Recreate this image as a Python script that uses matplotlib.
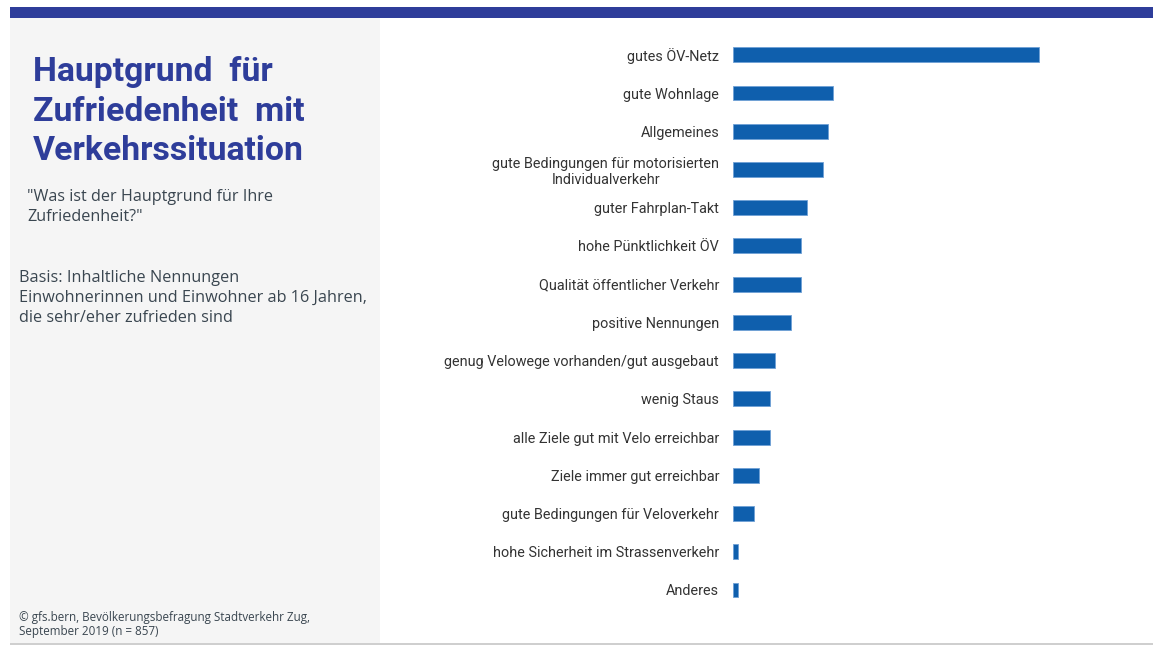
import matplotlib
matplotlib.use("Agg")
import matplotlib.pyplot as plt
from matplotlib.patches import Rectangle

# Reasons for satisfaction with the traffic situation (share of mentions, %)
categories = [
    "gutes ÖV-Netz",
    "gute Wohnlage",
    "Allgemeines",
    "gute Bedingungen für motorisierten\nIndividualverkehr",
    "guter Fahrplan-Takt",
    "hohe Pünktlichkeit ÖV",
    "Qualität öffentlicher Verkehr",
    "positive Nennungen",
    "genug Velowege vorhanden/gut ausgebaut",
    "wenig Staus",
    "alle Ziele gut mit Velo erreichbar",
    "Ziele immer gut erreichbar",
    "gute Bedingungen für Veloverkehr",
    "hohe Sicherheit im Strassenverkehr",
    "Anderes",
]
values = [30, 9.8, 9.3, 8.8, 7.3, 6.7, 6.7, 5.7, 4.1, 3.6, 3.6, 2.5, 2.1, 0.5, 0.5]

title_lines = "Hauptgrund  für\nZufriedenheit  mit\nVerkehrssituation"
question = "\"Was ist der Hauptgrund für Ihre\nZufriedenheit?\""
basis = ("Basis: Inhaltliche Nennungen\n"
         "Einwohnerinnen und Einwohner ab 16 Jahren,\n"
         "die sehr/eher zufrieden sind")
source = "© gfs.bern, Bevölkerungsbefragung Stadtverkehr Zug,\nSeptember 2019 (n = 857)"

FONT = ["Roboto", "DejaVu Sans"]
BODY = ["Open Sans", "DejaVu Sans"]
NAVY = "#2E3D9A"
BAR = "#0F5FAD"
TEXT = "#3A4650"

W, H = 1153, 645
fig = plt.figure(figsize=(W / 100, H / 100), dpi=100)
fig.patch.set_facecolor("white")


def fx(px):
    return px / W


def fy(py):
    return 1 - py / H


# Header stripe, side panel and bottom rule
fig.add_artist(Rectangle((fx(10), fy(18)), fx(1153 - 10), 11 / H,
                         transform=fig.transFigure, color=NAVY, lw=0, zorder=0))
fig.add_artist(Rectangle((fx(10), fy(643)), fx(380 - 10), (643 - 18) / H,
                         transform=fig.transFigure, color="#F5F5F5", lw=0, zorder=0))
fig.add_artist(Rectangle((fx(10), fy(645)), fx(1153 - 10), 2 / H,
                         transform=fig.transFigure, color="#CFCFCF", lw=0, zorder=0))

fig.text(fx(33), fy(56), title_lines, ha="left", va="top", fontsize=24.3,
         fontweight="bold", color=NAVY, family=FONT, linespacing=1.31)
fig.text(fx(27), fy(189), question, ha="left", va="top", fontsize=11.6,
         color=TEXT, family=BODY, linespacing=1.3)
fig.text(fx(19), fy(270), basis, ha="left", va="top", fontsize=11.7,
         color=TEXT, family=BODY, linespacing=1.34)
fig.text(fx(19), fy(611), source, ha="left", va="top", fontsize=8.4,
         color=TEXT, family=BODY, linespacing=1.15)

# Bar chart
x0, x1 = 733, 1141
y_top, y_bot = 35.7, 609.1
ax = fig.add_axes([fx(x0), fy(y_bot), fx(x1 - x0), (y_bot - y_top) / H])
pos = list(range(len(categories)))
ax.barh(pos, values, height=0.39, color=BAR, edgecolor="#6FA0D6", linewidth=0.6)
ax.set_xlim(0, 40)
ax.set_ylim(len(categories) - 0.5, -0.5)
ax.set_yticks(pos)
ax.set_yticklabels(categories, fontsize=10.4, color="#333333", family=FONT,
                   multialignment="center")
ax.tick_params(axis="y", length=0, pad=10)
ax.set_xticks([])
for s in ax.spines.values():
    s.set_visible(False)
ax.patch.set_alpha(0)

fig.savefig("out.png", dpi=100, facecolor="white")
